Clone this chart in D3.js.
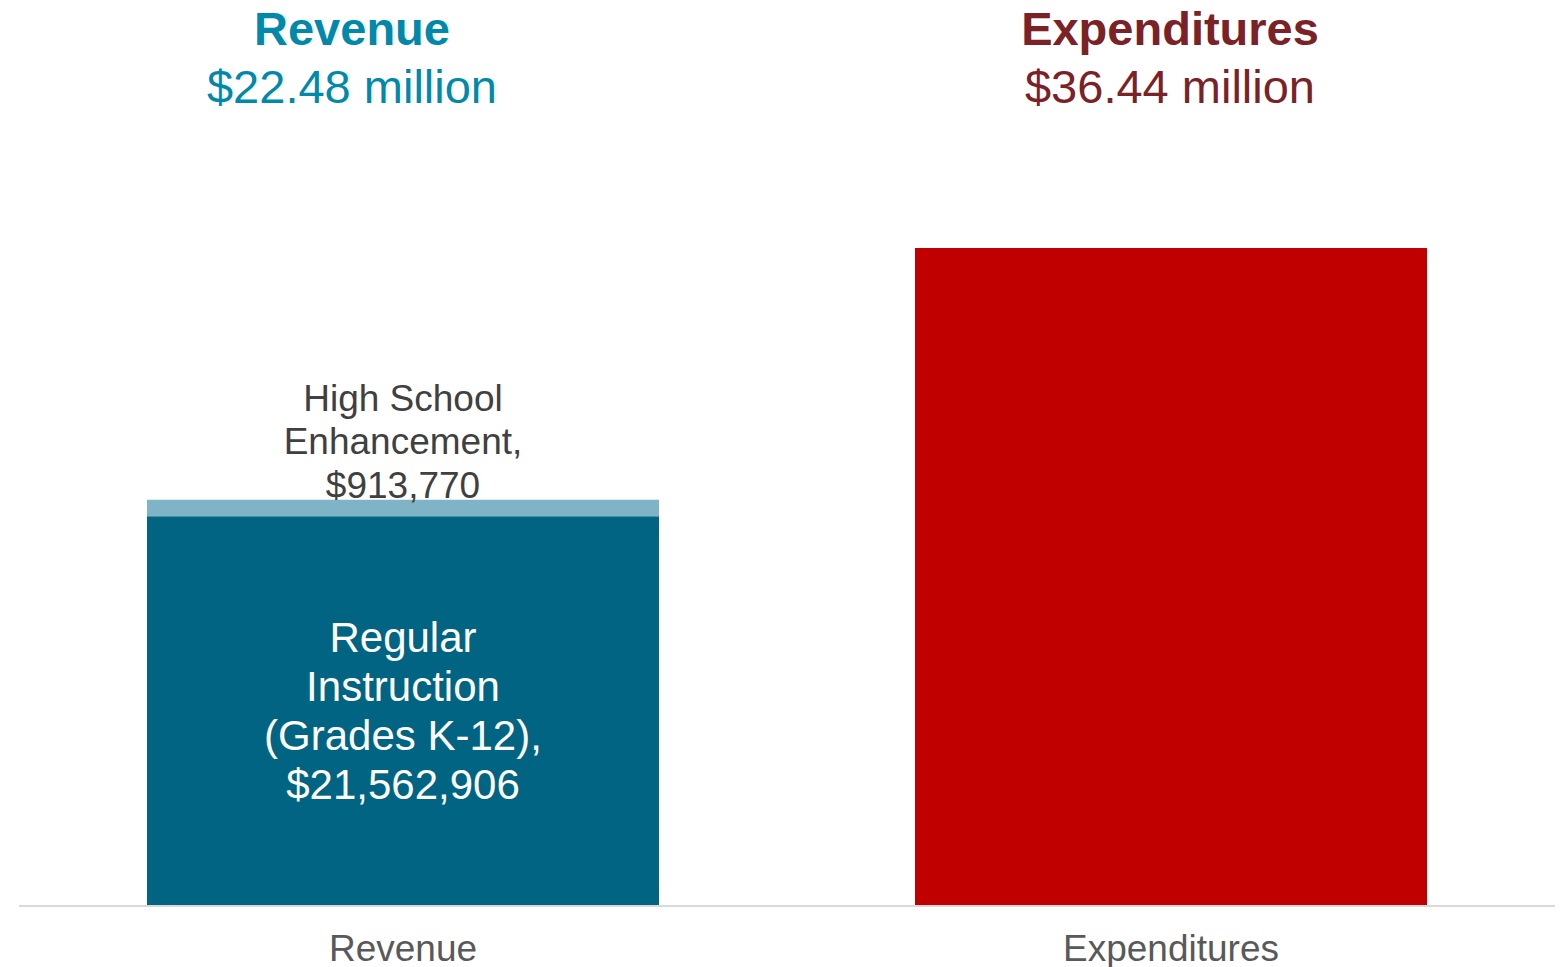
<!DOCTYPE html>
<html>
<head>
<meta charset="utf-8">
<script src="https://cdn.jsdelivr.net/npm/d3@7/dist/d3.min.js"></script>
<style>
  html, body { margin: 0; padding: 0; background: #ffffff; }
  svg { display: block; font-family: "Liberation Sans", Arial, Helvetica, sans-serif; }
</style>
</head>
<body>
<svg id="chart" width="1565" height="967"></svg>
<script>
// Budget categories (x axis)
const categories = ["Revenue", "Expenditures"];

// Revenue is split into two stacked components (millions of dollars)
const revenueParts = ["Regular Instruction (Grades K-12)", "High School Enhancement"];
const revenueValues = [21.562906, 0.91377];
const revenueLabels = [
  ["Regular", "Instruction", "(Grades K-12),", "$21,562,906"],
  ["High School", "Enhancement,", "$913,770"]
];

// Expenditures shown as a single total (millions of dollars)
const expenditureValues = [36.44];

// Headline totals
const headlineNames = ["Revenue", "Expenditures"];
const headlineTotals = ["$22.48 million", "$36.44 million"];

(function draw() {
  const svg = d3.select("#chart");

  const x = d3.scaleBand()
    .domain(categories)
    .range([19, 1555])
    .paddingInner(1 / 3)
    .paddingOuter(1 / 6);

  const y = d3.scaleLinear()
    .domain([0, 36.44])
    .range([905, 248]);

  // Stack the revenue components
  const revStack = [];
  let acc = 0;
  revenueValues.forEach((v, i) => {
    revStack.push({ name: revenueParts[i], y0: acc, y1: acc + v, lines: revenueLabels[i] });
    acc += v;
  });
  const revColors = ["#006482", "#7fb4c7"];

  svg.append("g").selectAll("rect")
    .data(revStack)
    .join("rect")
    .attr("x", x("Revenue"))
    .attr("width", x.bandwidth())
    .attr("y", d => y(d.y1))
    .attr("height", d => y(d.y0) - y(d.y1))
    .attr("fill", (d, i) => revColors[i]);

  svg.append("g").selectAll("rect")
    .data(expenditureValues)
    .join("rect")
    .attr("x", x("Expenditures"))
    .attr("width", x.bandwidth())
    .attr("y", d => y(d))
    .attr("height", d => y(0) - y(d))
    .attr("fill", "#c00000");

  // Baseline
  svg.append("line")
    .attr("x1", 19).attr("x2", 1555)
    .attr("y1", y(0) + 1).attr("y2", y(0) + 1)
    .attr("stroke", "#d9d9d9")
    .attr("stroke-width", 2);

  const cx = x("Revenue") + x.bandwidth() / 2;

  // Label inside the large segment, centred vertically
  const mainSeg = revStack[0];
  const mainMid = (y(mainSeg.y0) + y(mainSeg.y1)) / 2;
  const mainLH = 49;
  const mainText = svg.append("text")
    .attr("text-anchor", "middle")
    .attr("fill", "#ffffff")
    .style("font-size", "42px");
  mainSeg.lines.forEach((t, i) => {
    mainText.append("tspan")
      .attr("x", cx)
      .attr("y", mainMid - (mainSeg.lines.length - 1) * mainLH / 2 + i * mainLH + 15)
      .text(t);
  });

  // Label above the thin segment
  const thinSeg = revStack[1];
  const thinLH = 43.5;
  const thinText = svg.append("text")
    .attr("text-anchor", "middle")
    .attr("fill", "#404040")
    .style("font-size", "37px");
  thinSeg.lines.forEach((t, i) => {
    thinText.append("tspan")
      .attr("x", cx)
      .attr("y", y(thinSeg.y1) - 2 - (thinSeg.lines.length - 1 - i) * thinLH)
      .text(t);
  });

  // Category axis labels
  svg.append("g").selectAll("text")
    .data(categories)
    .join("text")
    .attr("x", d => x(d) + x.bandwidth() / 2)
    .attr("y", 961)
    .attr("text-anchor", "middle")
    .attr("fill", "#595959")
    .style("font-size", "37px")
    .text(d => d);

  // Headline totals
  const headX = [352, 1170];
  const headColors = ["#0089ab", "#7b2226"];
  headlineNames.forEach((n, i) => {
    svg.append("text")
      .attr("x", headX[i]).attr("y", 45)
      .attr("text-anchor", "middle")
      .attr("fill", headColors[i])
      .style("font-size", "47px")
      .style("font-weight", "bold")
      .text(n);
    svg.append("text")
      .attr("x", headX[i]).attr("y", 103)
      .attr("text-anchor", "middle")
      .attr("fill", headColors[i])
      .style("font-size", "47px")
      .text(headlineTotals[i]);
  });
})();
</script>
</body>
</html>
